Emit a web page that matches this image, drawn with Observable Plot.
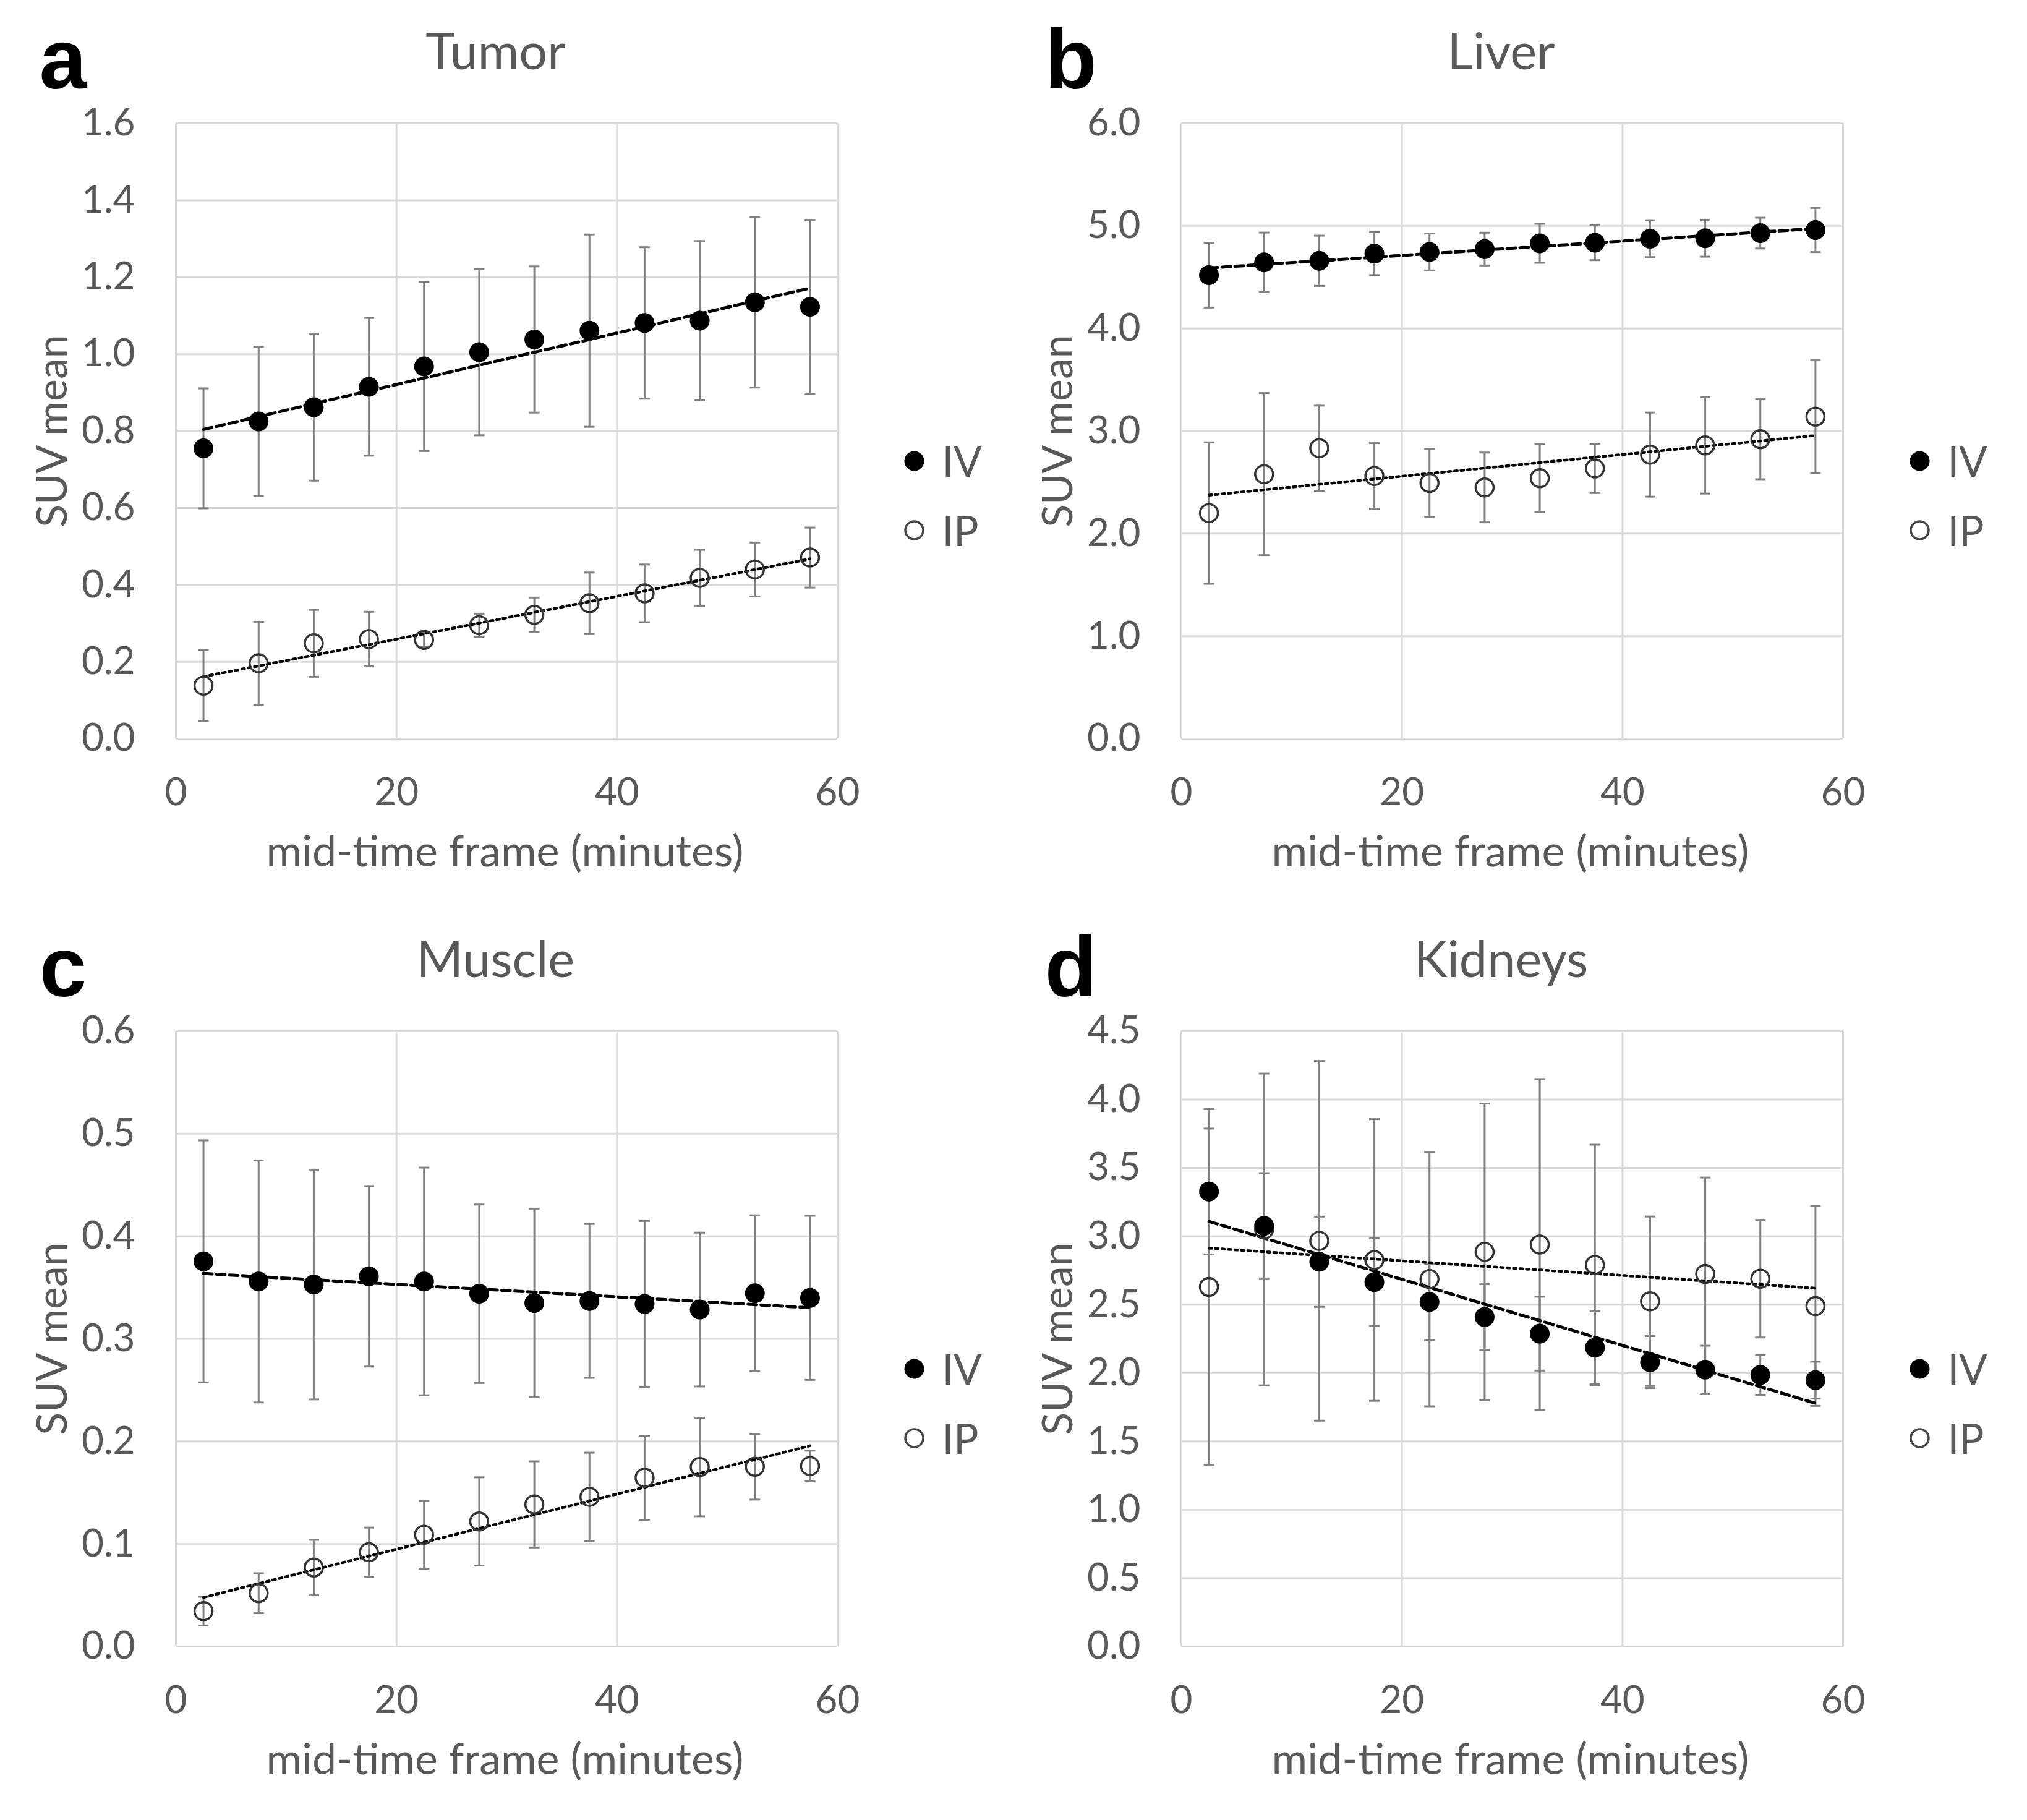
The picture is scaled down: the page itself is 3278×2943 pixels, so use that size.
<!DOCTYPE html>
<html>
<head>
<meta charset="utf-8">
<script src="https://cdn.jsdelivr.net/npm/d3@7"></script>
<script src="https://cdn.jsdelivr.net/npm/@observablehq/plot@0.6"></script>
<style>
  html, body { margin: 0; padding: 0; background: #fff; }
  #fig { position: relative; width: 3278px; height: 2943px; background: #fff; }
  .panel { position: absolute; }
</style>
</head>
<body>
<div id="fig"></div>
<script>
// ---- data ----
const time = [2.5, 7.5, 12.5, 17.5, 22.5, 27.5, 32.5, 37.5, 42.5, 47.5, 52.5, 57.5];
const xTicks = [0, 20, 40, 60];
const seriesNames = ["IV", "IP"];

// a: Tumor
const tumorIV   = [0.755, 0.825, 0.862, 0.915, 0.968, 1.005, 1.038, 1.061, 1.081, 1.087, 1.135, 1.123];
const tumorIVsd = [0.156, 0.194, 0.191, 0.179, 0.220, 0.216, 0.190, 0.250, 0.197, 0.207, 0.222, 0.226];
const tumorIP   = [0.138, 0.196, 0.248, 0.259, 0.257, 0.295, 0.322, 0.352, 0.378, 0.418, 0.440, 0.471];
const tumorIPsd = [0.093, 0.108, 0.087, 0.071, 0.018, 0.030, 0.045, 0.080, 0.075, 0.073, 0.070, 0.078];
const tumorTicks = [0, 0.2, 0.4, 0.6, 0.8, 1.0, 1.2, 1.4, 1.6];

// b: Liver
const liverIV   = [4.52, 4.645, 4.66, 4.73, 4.746, 4.774, 4.83, 4.836, 4.876, 4.88, 4.93, 4.96];
const liverIVsd = [0.316, 0.29, 0.245, 0.21, 0.18, 0.16, 0.19, 0.17, 0.18, 0.18, 0.15, 0.215];
const liverIP   = [2.20, 2.58, 2.833, 2.562, 2.494, 2.45, 2.54, 2.635, 2.77, 2.86, 2.92, 3.14];
const liverIPsd = [0.69, 0.79, 0.415, 0.32, 0.33, 0.34, 0.33, 0.24, 0.41, 0.47, 0.39, 0.55];
const liverTicks = [0, 1, 2, 3, 4, 5, 6];

// c: Muscle
const muscleIV   = [0.3756, 0.356, 0.353, 0.361, 0.356, 0.344, 0.335, 0.337, 0.334, 0.3286, 0.3445, 0.340];
const muscleIVsd = [0.118, 0.118, 0.112, 0.088, 0.111, 0.087, 0.092, 0.075, 0.081, 0.075, 0.076, 0.080];
const muscleIP   = [0.0345, 0.052, 0.077, 0.092, 0.109, 0.122, 0.1386, 0.146, 0.1646, 0.175, 0.1753, 0.176];
const muscleIPsd = [0.014, 0.0195, 0.027, 0.024, 0.033, 0.043, 0.042, 0.043, 0.041, 0.048, 0.032, 0.015];
const muscleTicks = [0, 0.1, 0.2, 0.3, 0.4, 0.5, 0.6];

// d: Kidneys
const kidneyIV   = [3.328, 3.077, 2.814, 2.665, 2.52, 2.41, 2.288, 2.186, 2.08, 2.025, 1.986, 1.948];
const kidneyIVsd = [0.46, 0.385, 0.33, 0.32, 0.28, 0.24, 0.27, 0.265, 0.19, 0.175, 0.145, 0.135];
const kidneyIP   = [2.63, 3.05, 2.967, 2.827, 2.687, 2.886, 2.94, 2.79, 2.525, 2.725, 2.69, 2.49];
const kidneyIPsd = [1.30, 1.14, 1.315, 1.03, 0.93, 1.085, 1.21, 0.88, 0.62, 0.705, 0.43, 0.73];
const kidneyTicks = [0, 0.5, 1.0, 1.5, 2.0, 2.5, 3.0, 3.5, 4.0, 4.5];

const panels = [
  {letter: "a", title: "Tumor",   iv: tumorIV,  ivsd: tumorIVsd,  ip: tumorIP,  ipsd: tumorIPsd,  ticks: tumorTicks,  left: 0,    top: 0},
  {letter: "b", title: "Liver",   iv: liverIV,  ivsd: liverIVsd,  ip: liverIP,  ipsd: liverIPsd,  ticks: liverTicks,  left: 1626, top: 0},
  {letter: "c", title: "Muscle",  iv: muscleIV, ivsd: muscleIVsd, ip: muscleIP, ipsd: muscleIPsd, ticks: muscleTicks, left: 0,    top: 1468},
  {letter: "d", title: "Kidneys", iv: kidneyIV, ivsd: kidneyIVsd, ip: kidneyIP, ipsd: kidneyIPsd, ticks: kidneyTicks, left: 1626, top: 1468}
];

// ---- styling ----
const W = 1639, H = 1471;
const mL = 284, mR = 285, mT = 199, mB = 277;
const textGray = "#595959";
const gridGray = "#d9d9d9";
const barGray = "#808080";
const openStroke = "#333333";

const capSymbol = {
  draw(ctx, size) {
    const w = Math.sqrt(size / Math.PI);
    ctx.moveTo(-w, 0);
    ctx.lineTo(w, 0);
  }
};

function rows(mean, sd) {
  return time.map((t, i) => ({t, m: mean[i], lo: mean[i] - sd[i], hi: mean[i] + sd[i]}));
}

function errorMarks(data) {
  return [
    Plot.ruleX(data, {x: "t", y1: "lo", y2: "hi", stroke: barGray, strokeWidth: 3}),
    Plot.dot(data, {x: "t", y: "lo", r: 8.5, symbol: capSymbol, fill: "none", stroke: barGray, strokeWidth: 3}),
    Plot.dot(data, {x: "t", y: "hi", r: 8.5, symbol: capSymbol, fill: "none", stroke: barGray, strokeWidth: 3})
  ];
}

const fig = document.getElementById("fig");

for (const p of panels) {
  const ivData = rows(p.iv, p.ivsd);
  const ipData = rows(p.ip, p.ipsd);
  const yMax = p.ticks[p.ticks.length - 1];

  const chart = Plot.plot({
    width: W,
    height: H,
    marginLeft: mL,
    marginRight: mR,
    marginTop: mT,
    marginBottom: mB,
    style: {fontFamily: "Lato, 'Open Sans', sans-serif", color: textGray, background: "white", overflow: "visible"},
    x: {domain: [0, 60]},
    y: {domain: [0, yMax]},
    marks: [
      Plot.gridX({ticks: xTicks, stroke: gridGray, strokeOpacity: 1, strokeWidth: 3}),
      Plot.gridY({ticks: p.ticks, stroke: gridGray, strokeOpacity: 1, strokeWidth: 3}),
      Plot.axisX({ticks: xTicks, tickSize: 0, tickPadding: 63, fontSize: 62, label: null, fill: textGray}),
      Plot.axisY({ticks: p.ticks, tickSize: 0, tickPadding: 66, fontSize: 62, label: null, fill: textGray, tickFormat: d3.format(".1f")}),
      ...errorMarks(ipData),
      ...errorMarks(ivData),
      Plot.linearRegressionY(ipData, {x: "t", y: "m", ci: 0, stroke: "black", strokeWidth: 4.5, strokeDasharray: "4.5,6"}),
      Plot.linearRegressionY(ivData, {x: "t", y: "m", ci: 0, stroke: "black", strokeWidth: 5, strokeDasharray: "14,7"}),
      Plot.dot(ipData, {x: "t", y: "m", r: 14.5, fill: "none", stroke: openStroke, strokeWidth: 3.5}),
      Plot.dot(ivData, {x: "t", y: "m", r: 16, fill: "black", stroke: "none"}),
      // panel letter
      Plot.text([p.letter], {text: d => d, frameAnchor: "top-left", dx: -221, dy: -57, textAnchor: "start", lineAnchor: "bottom",
        fontSize: 138, fontWeight: "bold", fontFamily: "'Liberation Sans', Arial, sans-serif", fill: "black"}),
      // title
      Plot.text([p.title], {text: d => d, frameAnchor: "top-left", dx: 517, dy: -88, textAnchor: "middle", lineAnchor: "bottom",
        fontSize: 81, fill: textGray}),
      // axis labels
      Plot.text(["mid-time frame (minutes)"], {text: d => d, frameAnchor: "bottom", dx: -3, dy: 206, textAnchor: "middle", lineAnchor: "bottom",
        fontSize: 70, fill: textGray}),
      Plot.text(["SUV mean"], {text: d => d, frameAnchor: "left", dx: -177, dy: 0, rotate: -90, textAnchor: "middle", lineAnchor: "bottom",
        fontSize: 68, fill: textGray}),
      // legend
      Plot.dot([seriesNames[0]], {frameAnchor: "top-right", dx: 124, dy: 546, r: 16, fill: "black", stroke: "none"}),
      Plot.dot([seriesNames[1]], {frameAnchor: "top-right", dx: 124, dy: 658, r: 14.5, fill: "none", stroke: "#444", strokeWidth: 3.5}),
      Plot.text([seriesNames[0]], {text: d => d, frameAnchor: "top-right", dx: 169, dy: 571, textAnchor: "start", lineAnchor: "bottom", fontSize: 67, fill: textGray}),
      Plot.text([seriesNames[1]], {text: d => d, frameAnchor: "top-right", dx: 169, dy: 683, textAnchor: "start", lineAnchor: "bottom", fontSize: 67, fill: textGray})
    ]
  });
  const holder = document.createElement("div");
  holder.className = "panel";
  holder.style.left = p.left + "px";
  holder.style.top = p.top + "px";
  holder.appendChild(chart);
  fig.appendChild(holder);
}
</script>
</body>
</html>
